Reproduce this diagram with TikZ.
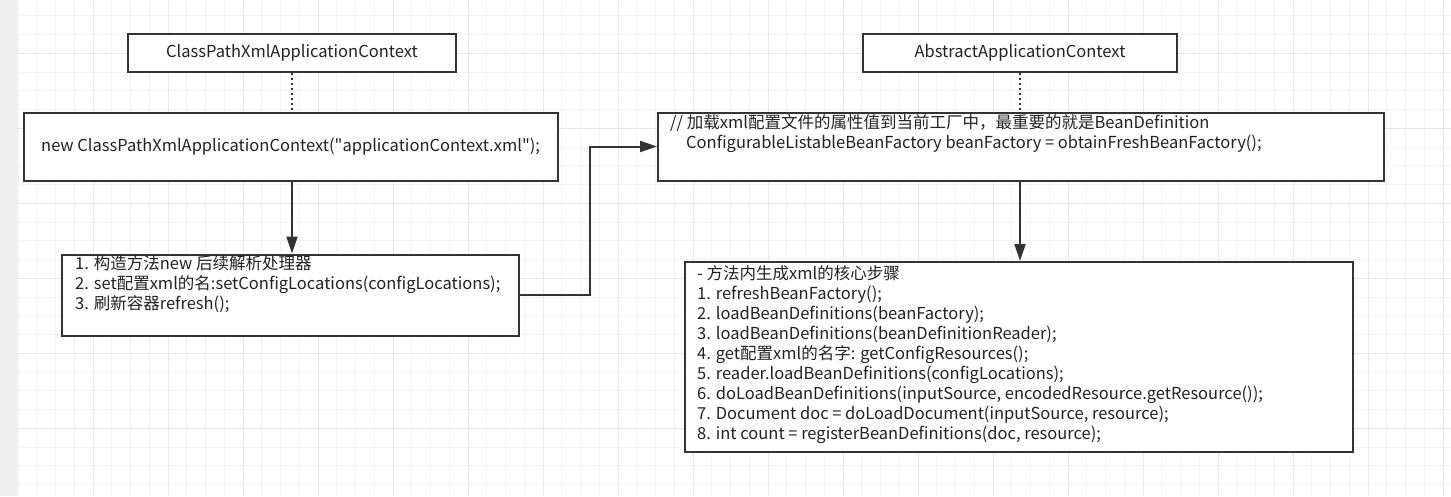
\documentclass[tikz,border=0pt]{standalone}
\usepackage{fontspec}
\setmainfont{Noto Sans CJK SC}[Ligatures=TeXOff]
\usepackage{tikz}
\usetikzlibrary{positioning, arrows.meta}

\definecolor{gridminor}{HTML}{F4F4F4}
\definecolor{gridmajor}{HTML}{E8E8E8}
\definecolor{ink}{HTML}{333333}
\definecolor{txt}{HTML}{222222}

\tikzset{
  panel/.style={draw=ink, line width=2pt, fill=white, rectangle, inner sep=0pt,
    anchor=north west, text=txt, font=\fontsize{16.5}{20}\selectfont},
  note/.style={align=left, inner sep=0pt, text=txt, font=\fontsize{16.5}{20}\selectfont},
  flow/.style={draw=ink, line width=2pt, -{Triangle[length=17pt,width=11pt]}},
  link/.style={draw=ink, line width=2pt, dash pattern=on 2pt off 3pt},
}

\begin{document}
\begin{tikzpicture}[x=1pt, y=-1pt]
\useasboundingbox (0,0) rectangle (1451,496);
\fill[white] (0,0) rectangle (1451,496);
\fill[black!6] (0,0) rectangle (17.7,496);
% grid
\foreach \gx in {17.7,36.45,...,1451} \draw[gridminor] (\gx,0) -- (\gx,496);
\foreach \gy in {15.5,34.25,...,496} \draw[gridminor] (17.7,\gy) -- (1451,\gy);
\foreach \gx in {92.7,167.7,...,1451} \draw[gridmajor] (\gx,0) -- (\gx,496);
\foreach \gy in {53,128,...,496} \draw[gridmajor] (17.7,\gy) -- (1451,\gy);

% left column
\node[panel, minimum width=328pt, minimum height=38pt] (cpxCtx) at (127,33) {ClassPathXmlApplicationContext};
\node[panel, minimum width=534pt, minimum height=68pt] (newCtx) at (23,111.5) {};
\node[note, right=18pt of newCtx.west] (newText) {new ClassPathXmlApplicationContext("applicationContext.xml");};
\node[panel, minimum width=457pt, minimum height=81pt] (initCtx) at (61,253.5) {};
\node[note, below right=2pt and 14pt of initCtx.north west] (initText) {1. 构造方法new 后续解析处理器\\2. set配置xml的名:setConfigLocations(configLocations);\\3. 刷新容器refresh();};

% right column
\node[panel, minimum width=314pt, minimum height=38pt] (absCtx) at (862,33) {AbstractApplicationContext};
\node[panel, minimum width=726pt, minimum height=68pt] (loadBox) at (657,111.5) {};
\node[note, below right=3pt and 13pt of loadBox.north west] (loadText) {// 加载xml配置文件的属性值到当前工厂中，最重要的就是BeanDefinition\\\hspace*{16pt}ConfigurableListableBeanFactory beanFactory = obtainFreshBeanFactory();};
\node[panel, minimum width=668pt, minimum height=190pt] (coreBox) at (684,261) {};
\node[note, below right=4.5pt and 13pt of coreBox.north west] (coreText) {- 方法内生成xml的核心步骤\\1. refreshBeanFactory();\\2. loadBeanDefinitions(beanFactory);\\3. loadBeanDefinitions(beanDefinitionReader);\\4. get配置xml的名字: getConfigResources();\\5. reader.loadBeanDefinitions(configLocations);\\6. doLoadBeanDefinitions(inputSource, encodedResource.getResource());\\7. Document doc = doLoadDocument(inputSource, resource);\\8. int count = registerBeanDefinitions(doc, resource);};

% connectors
\draw[link] (cpxCtx.south) -- (cpxCtx.south |- newCtx.north);
\draw[flow] (cpxCtx.south |- newCtx.south) -- (cpxCtx.south |- initCtx.north);
\draw[flow] (initCtx.east) -- ++(70,0) |- (loadBox.west);
\draw[link] (absCtx.south) -- (absCtx.south |- loadBox.north);
\draw[flow] (absCtx.south |- loadBox.south) -- (absCtx.south |- coreBox.north);
\end{tikzpicture}
\end{document}
